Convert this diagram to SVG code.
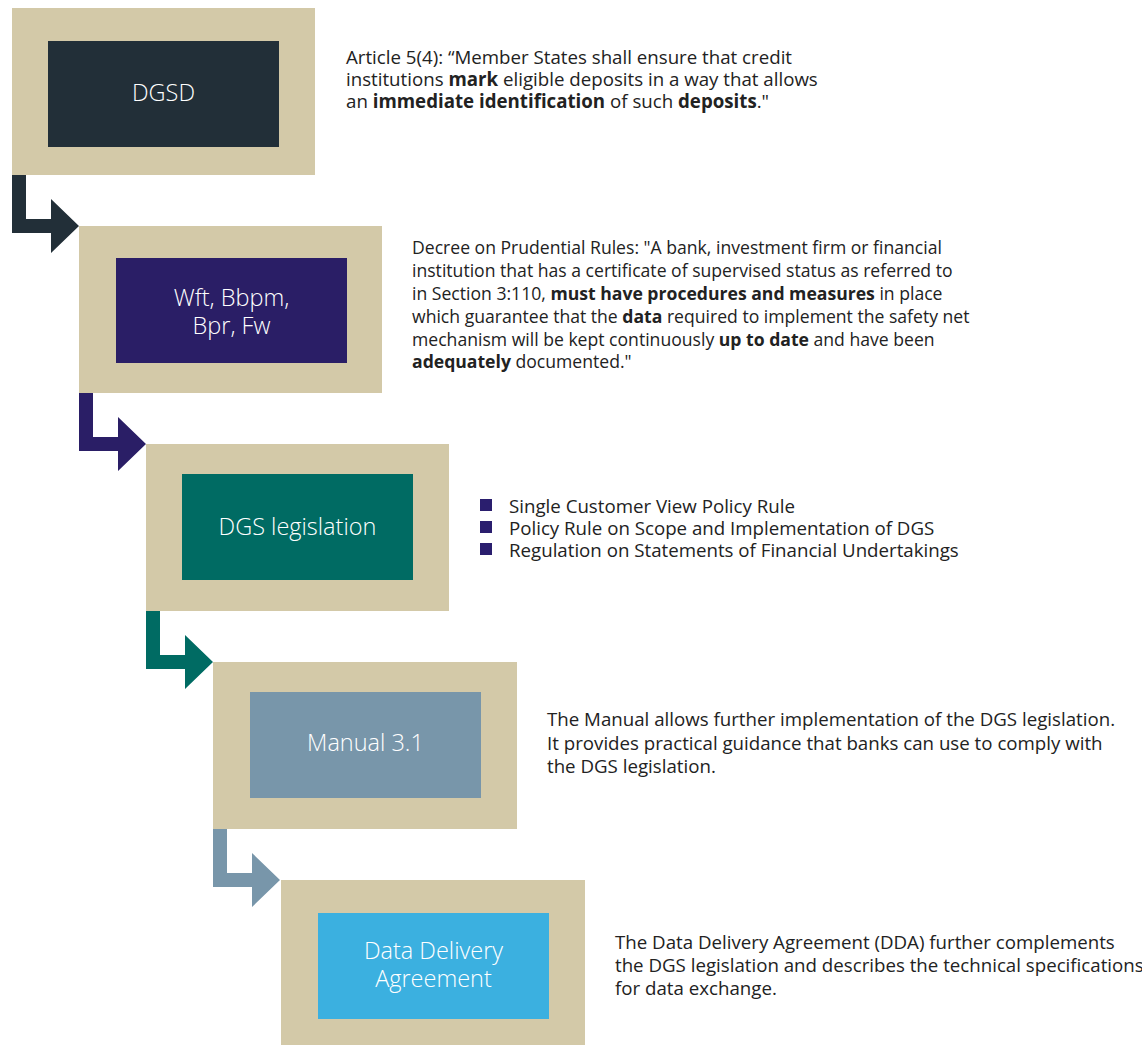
<svg xmlns="http://www.w3.org/2000/svg" width="1142" height="1045" viewBox="0 0 1142 1045">
  <style>
    .frame { fill: #D3C9A8; }
    .label { font-family: "Open Sans", "Noto Sans", sans-serif; font-size: 23.5px; font-weight: 300; fill: #FFFFFF; text-anchor: middle; }
    .body { font-family: "Open Sans", "Noto Sans", sans-serif; font-size: 18.7px; fill: #222222; }
    .body.narrow { font-size: 17.6px; }
    .body tspan.b { font-weight: 700; }
    .bullet { fill: #2A1E6E; }
  </style>
  <rect width="1142" height="1045" fill="#FFFFFF"/>

  <!-- elbow arrows between the steps -->
  <g id="connectors">
    <path d="M12 175 H26 V219 H51 V199 L79 226 L51 253 V233 H12 Z" fill="#222F38"/>
    <path d="M79 393 H93 V437 H118 V417 L146 444 L118 471 V451 H79 Z" fill="#2A1E66"/>
    <path d="M146 611 H160 V655 H185 V635 L213 662 L185 689 V669 H146 Z" fill="#006B63"/>
    <path d="M213 829 H227 V873 H252 V853 L280 880 L252 907 V887 H213 Z" fill="#7896AA"/>
  </g>

  <g id="node-dgsd">
    <rect class="frame" x="12" y="8" width="303" height="167"/>
    <rect x="48" y="41" width="231" height="106" fill="#222F38"/>
    <text class="label" x="163.5" y="101">DGSD</text>
  </g>
  <g id="node-wft">
    <rect class="frame" x="79" y="226" width="303" height="167"/>
    <rect x="116" y="258" width="231" height="105" fill="#2A1E66"/>
    <text class="label" x="231.5" y="306">Wft, Bbpm,</text>
    <text class="label" x="231.5" y="334">Bpr, Fw</text>
  </g>
  <g id="node-dgs-legislation">
    <rect class="frame" x="146" y="444" width="303" height="167"/>
    <rect x="182" y="474" width="231" height="106" fill="#006B63"/>
    <text class="label" x="297.5" y="535">DGS legislation</text>
  </g>
  <g id="node-manual">
    <rect class="frame" x="213" y="662" width="304" height="167"/>
    <rect x="250" y="692" width="231" height="106" fill="#7896AA"/>
    <text class="label" x="365.5" y="751">Manual 3.1</text>
  </g>
  <g id="node-dda">
    <rect class="frame" x="281" y="880" width="304" height="167"/>
    <rect x="318" y="913" width="231" height="106" fill="#3BB0E0"/>
    <text class="label" x="433.5" y="959">Data Delivery</text>
    <text class="label" x="433.5" y="987">Agreement</text>
  </g>

  <!-- explanatory texts -->
  <g id="note-dgsd">
    <text class="body" x="346" y="64">Article 5(4): “Member States shall ensure that credit</text>
    <text class="body" x="346" y="86">institutions <tspan class="b">mark</tspan> eligible deposits in a way that allows</text>
    <text class="body" x="346" y="108">an <tspan class="b">immediate identification</tspan> of such <tspan class="b">deposits</tspan>."</text>
  </g>
  <g id="note-wft">
    <text class="body narrow" x="412" y="254">Decree on Prudential Rules: "A bank, investment firm or financial</text>
    <text class="body narrow" x="412" y="277">institution that has a certificate of supervised status as referred to</text>
    <text class="body narrow" x="412" y="300">in Section 3:110, <tspan class="b">must have procedures and measures</tspan> in place</text>
    <text class="body narrow" x="412" y="323">which guarantee that the <tspan class="b">data</tspan> required to implement the safety net</text>
    <text class="body narrow" x="412" y="346">mechanism will be kept continuously <tspan class="b">up to date</tspan> and have been</text>
    <text class="body narrow" x="412" y="368"><tspan class="b">adequately</tspan> documented."</text>
  </g>
  <g id="note-dgs-legislation">
    <rect class="bullet" x="480" y="499" width="12" height="12"/>
    <rect class="bullet" x="480" y="521" width="12" height="12"/>
    <rect class="bullet" x="480" y="543" width="12" height="12"/>
    <text class="body" x="509" y="513">Single Customer View Policy Rule</text>
    <text class="body" x="509" y="535">Policy Rule on Scope and Implementation of DGS</text>
    <text class="body" x="509" y="557">Regulation on Statements of Financial Undertakings</text>
  </g>
  <g id="note-manual">
    <text class="body" x="547" y="726">The Manual allows further implementation of the DGS legislation.</text>
    <text class="body" x="547" y="750">It provides practical guidance that banks can use to comply with</text>
    <text class="body" x="547" y="773">the DGS legislation.</text>
  </g>
  <g id="note-dda">
    <text class="body" x="615" y="949">The Data Delivery Agreement (DDA) further complements</text>
    <text class="body" x="615" y="972">the DGS legislation and describes the technical specifications</text>
    <text class="body" x="615" y="995">for data exchange.</text>
  </g>
</svg>
